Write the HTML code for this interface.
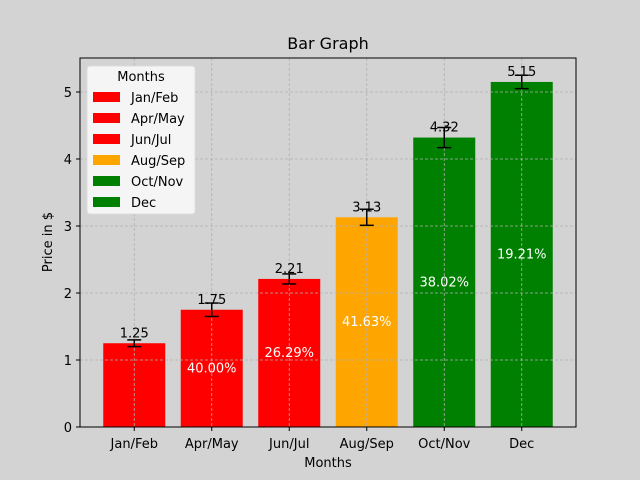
<!DOCTYPE html>
<html><head><meta charset="utf-8"><style>
body{margin:0;background:#d3d3d3;}
svg{display:block;font-family:"DejaVu Sans","Liberation Sans",sans-serif;}
</style></head><body>
<svg id="c" width="640" height="480">
<rect width="640" height="480" fill="#d3d3d3"/>
<g id="grid"></g>
<g id="bars"></g>
<g id="hgrid"></g>
<g id="axes"></g>
</svg>
<script>
const categories=["Jan/Feb","Apr/May","Jun/Jul","Aug/Sep","Oct/Nov","Dec"];
const values=[1.25,1.75,2.21,3.13,4.32,5.15];
const errors=[0.05,0.1,0.075,0.12,0.15,0.1];
const colors=["red","red","red","orange","green","green"];
const percents=["","40.00%","26.29%","41.63%","38.02%","19.21%"];
const yTicks=[0,1,2,3,4,5];
const NS="http://www.w3.org/2000/svg";
const L=80,R=576,T=58,B=427;
const xs=i=>L+(i+0.7)*(R-L)/6.4;
const ys=v=>B-v*67;
const bw=0.8*(R-L)/6.4;
function mk(p,tag,a,txt){const e=document.createElementNS(NS,tag);for(const k in a)e.setAttribute(k,a[k]);if(txt!==undefined)e.textContent=txt;p.appendChild(e);return e;}
const grid=document.getElementById('grid'),bars=document.getElementById('bars'),hgrid=document.getElementById('hgrid'),axes=document.getElementById('axes');
mk(grid,'rect',{x:L,y:T,width:R-L,height:B-T,fill:'#d3d3d3'});
categories.forEach((c,i)=>{
const b=mk(bars,'rect',{x:xs(i)-bw/2,y:ys(values[i]),width:bw,height:B-ys(values[i]),fill:colors[i]});


const gl=mk(bars,'line',{x1:xs(i),x2:xs(i),y1:T,y2:B,stroke:'#b0b0b0','stroke-dasharray':'3,2','stroke-width':0.8});


});
yTicks.forEach(t=>{const g=mk(hgrid,'line',{x1:L,x2:R,y1:ys(t),y2:ys(t),stroke:'#b0b0b0','stroke-dasharray':'3,2','stroke-width':0.8});

});
categories.forEach((c,i)=>{
if(percents[i]){const p=mk(axes,'text',{x:xs(i),y:ys(values[i]/2)+4,'text-anchor':'middle','font-size':13,fill:'white'},percents[i]);

}
const eg=mk(axes,'g',{stroke:'black','stroke-width':1.5});


const y1=ys(values[i]+errors[i]),y2=ys(values[i]-errors[i]);
mk(eg,'line',{x1:xs(i),x2:xs(i),y1:y1,y2:y2});
mk(eg,'line',{x1:xs(i)-7,x2:xs(i)+7,y1:y1,y2:y1});
mk(eg,'line',{x1:xs(i)-7,x2:xs(i)+7,y1:y2,y2:y2});
const vl=mk(axes,'text',{x:xs(i),y:ys(values[i])-6,'text-anchor':'middle','font-size':13,fill:'black'},values[i].toFixed(2));


mk(axes,'line',{x1:xs(i),x2:xs(i),y1:B,y2:B+4,stroke:'black'});
const xl=mk(axes,'text',{x:xs(i),y:B+21,'text-anchor':'middle','font-size':13},c);


});
yTicks.forEach(t=>{mk(axes,'line',{x1:L-4,x2:L,y1:ys(t),y2:ys(t),stroke:'black'});
const yl=mk(axes,'text',{x:L-8,y:ys(t)+5,'text-anchor':'end','font-size':13},t);

});
mk(axes,'rect',{x:L,y:T,width:R-L,height:B-T,fill:'none',stroke:'black','stroke-width':1});
const ti=mk(axes,'text',{x:(L+R)/2,y:49,'text-anchor':'middle','font-size':16},'Bar Graph');

const xa=mk(axes,'text',{x:(L+R)/2,y:467,'text-anchor':'middle','font-size':13},'Months');

const ya=mk(axes,'text',{x:52,y:242,'text-anchor':'middle','font-size':13,transform:'rotate(-90 52 242)'},'Price in $');

const lg=mk(axes,'g',{});

mk(lg,'rect',{x:87,y:66,width:108,height:148,rx:3,fill:'#f5f5f5',stroke:'#dddddd'});
mk(lg,'text',{x:141,y:81,'text-anchor':'middle','font-size':13},'Months');
categories.forEach((c,i)=>{const e=mk(lg,'g',{});


const y=97+i*21;
mk(e,'rect',{x:93,y:y-5,width:27,height:10,fill:colors[i]});
mk(e,'text',{x:131,y:y+5,'font-size':13},c);});
</script>
</body></html>
